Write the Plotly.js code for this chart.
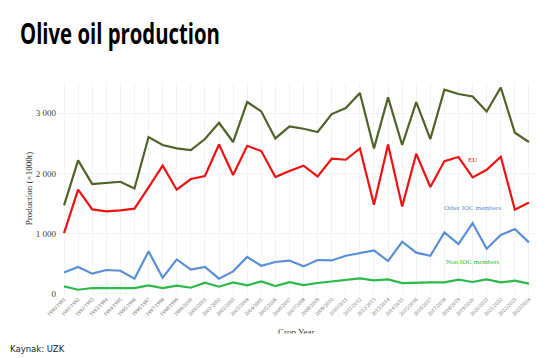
<!DOCTYPE html>
<html>
<head>
<meta charset="utf-8">
<script src="https://cdn.plot.ly/plotly-3.0.1.min.js"></script>
<style>html,body{margin:0;padding:0;background:#fff;}#chart{width:551px;height:358px;}</style>
</head>
<body>
<div id="chart"></div>
<script>
var cropYears = ["1990/1991","1991/1992","1992/1993","1993/1994","1994/1995","1995/1996","1996/1997","1997/1998","1998/1999","1999/2000","2000/2001","2001/2002","2002/2003","2003/2004","2004/2005","2005/2006","2006/2007","2007/2008","2008/2009","2009/2010","2010/2011","2011/2012","2012/2013","2013/2014","2014/2015","2015/2016","2016/2017","2017/2018","2018/2019","2019/2020","2020/2021","2021/2022","2022/2023","2023/2024"];
var world = [1469,2216,1824,1841,1862,1751,2603,2471,2415,2388,2570,2841,2521,3184,3028,2581,2780,2741,2687,2985,3084,3333,2415,3261,2471,3184,2570,3388,3317,3277,3028,3426,2675,2521];
var eu = [1011,1730,1403,1370,1387,1415,1768,2128,1730,1907,1957,2481,1973,2459,2371,1940,2040,2128,1950,2244,2227,2415,1481,2481,1453,2327,1774,2205,2272,1934,2061,2277,1398,1519];
var otherIOC = [358,448,337,398,386,254,707,271,574,403,448,254,375,614,469,531,555,458,564,557,635,680,723,547,867,685,635,1022,829,1177,751,978,1078,856];
var nonIOC = [126,71,99,99,110,99,143,99,138,104,187,121,192,143,209,133,195,149,182,209,237,259,226,242,182,192,192,192,237,199,242,192,221,171];
var seriesNames = ["World","EU","Other IOC members","Non IOC members"];
var seriesColors = ["#4F6228","#EE1111","#5A8ED6","#2DB84A"];
var seriesData = [world, eu, otherIOC, nonIOC];

var traces = seriesData.map(function(d,i){
  return {x: cropYears, y: d, type:'scatter', mode:'lines', name: seriesNames[i],
          line:{color: seriesColors[i], width:2.2}, hoverinfo:'skip'};
});

var serif = "Liberation Serif, Times New Roman, serif";
var labelPos = [[28.7,3521],[29,2216],[29,1420],[29,524]];
var annotations = seriesNames.map(function(n,i){
  return {x: labelPos[i][0], y: labelPos[i][1], xref:'x', yref:'y', text:n, showarrow:false,
          font:{family:serif, size:7, color: seriesColors[i]}, xanchor:'center', yanchor:'middle'};
});
annotations.push({x:0.5, y:-0.182, xref:'paper', yref:'paper', text:'Crop Year', showarrow:false,
  font:{family:serif, size:9, color:'#333'}, xanchor:'center', yanchor:'middle'});
annotations.push({x:0.5, y:-0.183, xref:'paper', yref:'paper', text:' ', showarrow:false,
  bgcolor:'#ffffff', width:80, height:10, xanchor:'center', yanchor:'top', borderpad:0});
annotations.push({x:-0.102, y:-0.259, xref:'paper', yref:'paper', text:'Kaynak: UZK', showarrow:false,
  font:{family:'DejaVu Sans, Noto Sans, sans-serif', size:8.5, color:'#222'}, xanchor:'left', yanchor:'middle'});

var layout = {
  width:551, height:358,
  margin:{l:57, r:15, t:83, b:64},
  paper_bgcolor:'#ffffff', plot_bgcolor:'#ffffff',
  separators:'. ',
  showlegend:false,
  title:{text:'<b>Olive oil production</b>', x:20/551, xref:'container', xanchor:'left',
         y:1-34/358, yref:'container', yanchor:'middle',
         font:{family:'Open Sans, sans-serif', size:28, color:'#000'}},
  xaxis:{type:'category', tickangle:-45, tickfont:{family:serif, size:5.5, color:'#666'},
         showgrid:true, gridcolor:'#f4f4f4', zeroline:false, showline:false, ticks:'',
         range:[-0.5,33.5], fixedrange:true},
  yaxis:{range:[0,3500], dtick:1000, tick0:0, tickformat:',d', tickfont:{family:serif, size:9, color:'#444'},
         showgrid:true, gridcolor:'#f2f2f2', zeroline:false, showline:false, ticks:'',
         title:{text:'Production (×1000t)', font:{family:serif, size:9, color:'#333'}, standoff:1},
         fixedrange:true},
  annotations: annotations
};
Plotly.newPlot('chart', traces, layout, {staticPlot:true, displayModeBar:false}).then(function(){
  var t = document.querySelector('.gtitle');
  if (t) {
    var bb = t.getBBox();
    var target = 200;
    var s = target / bb.width;
    var x0 = 20;
    t.setAttribute('transform', 'translate(' + x0 + ',0) scale(' + s + ',1) translate(' + (-x0) + ',0)');
  }
});
</script>
</body>
</html>
